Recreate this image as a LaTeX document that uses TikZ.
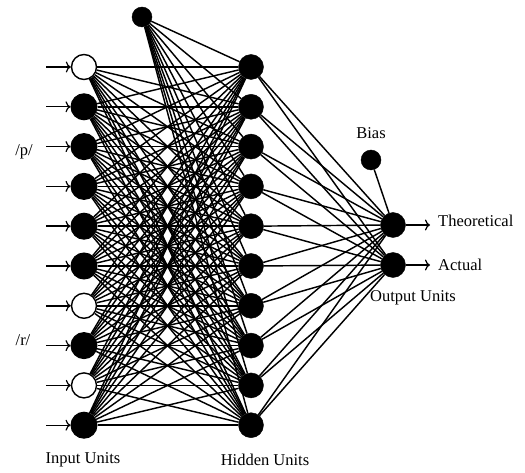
\documentclass[tikz,border=0pt]{standalone}
\usepackage{fontspec}
\setmainfont{Liberation Serif}
\usetikzlibrary{arrows.meta}
\begin{document}
\begin{tikzpicture}[x=1pt,y=-1pt,
  unitfull/.style={circle,fill=black,draw=black,line width=1pt,minimum size=26pt,inner sep=0pt},
  unitopen/.style={circle,fill=white,draw=black,line width=1.4pt,minimum size=25pt,inner sep=0pt},
  hid/.style={circle,fill=black,draw=black,minimum size=25pt,inner sep=0pt},
  biasunit/.style={circle,fill=black,draw=black,minimum size=20pt,inner sep=0pt},
  wire/.style={line width=1.45pt,black},
  inarrow/.style={line width=1.4pt,-{To[length=5pt,width=11pt,line width=1.2pt]}},
  lbl/.style={font=\fontsize{16.5}{18}\selectfont,inner sep=0pt}]
\useasboundingbox (0,0) rectangle (525,473);
% input units
\foreach \i/\s in {0/unitopen,1/unitfull,2/unitfull,3/unitfull,4/unitfull,5/unitfull,6/unitopen,7/unitfull,8/unitopen,9/unitfull}{
  \node[\s] (in\i) at (84,{67+39.8*\i}) {};
  \coordinate (src\i) at (46,{67+39.8*\i});
  \node[hid] (h\i) at (251,{67+39.8*\i}) {};
}
\node[biasunit] (hb) at (142,17) {};
\node[hid] (oT) at (393,225) {};
\node[hid] (oA) at (393,265) {};
\node[biasunit] (ob) at (371,160) {};
% connections
\foreach \i in {0,...,9}{
  \foreach \j in {0,...,9}{
    \draw[wire] (in\i) -- (h\j);
  }
  \draw[wire] (hb) -- (h\i);
  \draw[wire] (h\i) -- (oT);
  \draw[wire] (h\i) -- (oA);
  \draw[inarrow] (src\i) -- (in\i);
}
\draw[wire] (ob) -- (oT);
\coordinate (tT) at (430,225);
\coordinate (tA) at (430,265);
\draw[inarrow] (oT) -- (tT);
\draw[inarrow] (oA) -- (tA);
% labels
\node[lbl,anchor=west] (lT) at (438,221) {Theoretical};
\node[lbl,anchor=west] (lA) at (438,265) {Actual};
\node[lbl] (lB) at (371,133) {Bias};
\node[lbl] (lO) at (413,298) {Output Units};
\node[lbl] (lI) at (83,460) {Input Units};
\node[lbl] (lH) at (265,460) {Hidden Units};
\node[lbl] (lp) at (24,152) {/p/};
\node[lbl] (lr) at (23,340) {/r/};
\end{tikzpicture}
\end{document}
